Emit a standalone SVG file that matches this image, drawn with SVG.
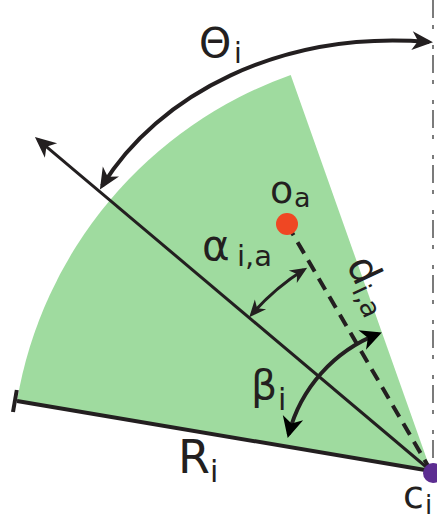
<svg xmlns="http://www.w3.org/2000/svg" width="437" height="522" viewBox="0 0 437 522">
<style>
.ln{fill:none;stroke:#231f20;stroke-linecap:butt}
.lbl{font-family:"DejaVu Sans",sans-serif;fill:#231f20}
</style>
<defs>
<marker id="ah" viewBox="-20 -11 26 22" refX="0" refY="0" markerWidth="26" markerHeight="22" markerUnits="userSpaceOnUse" orient="auto-start-reverse">
<path d="M4,0 L-17,-9.5 L-11,0 L-17,9.5 Z" fill="#231f20"/>
</marker>
<marker id="ahs" viewBox="-16 -9 22 18" refX="0" refY="0" markerWidth="22" markerHeight="18" markerUnits="userSpaceOnUse" orient="auto-start-reverse">
<path d="M4,0 L-13,-7.5 L-8,0 L-13,7.5 Z" fill="#231f20"/>
</marker>
<marker id="ahb" viewBox="-20 -12 26 24" refX="0" refY="0" markerWidth="26" markerHeight="24" markerUnits="userSpaceOnUse" orient="auto-start-reverse">
<path d="M4,0 L-17,-10.5 L-11,0 L-17,10.5 Z" fill="#000"/>
</marker>
</defs>
<g id="sector">
<path d="M431,471 L290.7,75 A420,420 0 0 0 17,401 Z" fill="#9fdb9f"/>
</g>
<g id="connectors">
<line x1="433" y1="0" x2="433" y2="462" stroke="#444" stroke-width="1.4" stroke-dasharray="18 7 4 16 4 6"/>
<path class="ln" d="M431,471 L38,139.6" stroke-width="3" marker-end="url(#ah)"/>
<path class="ln" d="M17,401 L431,471" stroke-width="4"/>
<path class="ln" d="M16.8,390 L13,412" stroke-width="4"/>
<path class="ln" d="M287,224 L431,471" stroke-width="4" stroke-dasharray="13 8"/>
<path class="ln" d="M102,186 C158,95 280,30 429,42" stroke-width="4" marker-start="url(#ah)" marker-end="url(#ah)"/>
<path class="ln" d="M251.9,314.2 A238,238 0 0 1 303.8,269.8" stroke-width="3" marker-start="url(#ahs)" marker-end="url(#ahs)"/>
<path class="ln" d="M288.7,434.2 A147,147 0 0 1 378.1,333.9" stroke="#000" stroke-width="4" marker-start="url(#ahb)" marker-end="url(#ahb)"/>
</g>
<g id="node-oa">
<circle cx="287" cy="224" r="11" fill="#ef4723"/>
<text class="lbl"><tspan x="270" y="203" font-size="38">o</tspan><tspan x="294" y="207" font-size="27">a</tspan></text>
</g>
<g id="node-ci">
<circle cx="433" cy="473" r="10" fill="#5c2d91"/>
<text class="lbl"><tspan x="403" y="508" font-size="38">c</tspan><tspan x="425" y="514" font-size="26">i</tspan></text>
</g>
<g id="label-theta">
<text class="lbl"><tspan x="199" y="57" font-size="41">Θ</tspan><tspan x="234" y="63" font-size="28">i</tspan></text>
</g>
<g id="label-alpha">
<text class="lbl"><tspan x="202" y="260" font-size="42">α</tspan><tspan x="237" y="266" font-size="29">i,a</tspan></text>
</g>
<g id="label-beta">
<text class="lbl"><tspan x="251" y="399" font-size="41">β</tspan><tspan x="278" y="410" font-size="30">i</tspan></text>
</g>
<g id="label-R">
<text class="lbl"><tspan x="178" y="473" font-size="46">R</tspan><tspan x="210" y="482" font-size="30">i</tspan></text>
</g>
<g id="label-d">
<text class="lbl" transform="translate(346,264) rotate(65)"><tspan x="0" y="0" font-size="41">d</tspan><tspan font-size="27" dy="6">i,a</tspan></text>
</g>
</svg>
